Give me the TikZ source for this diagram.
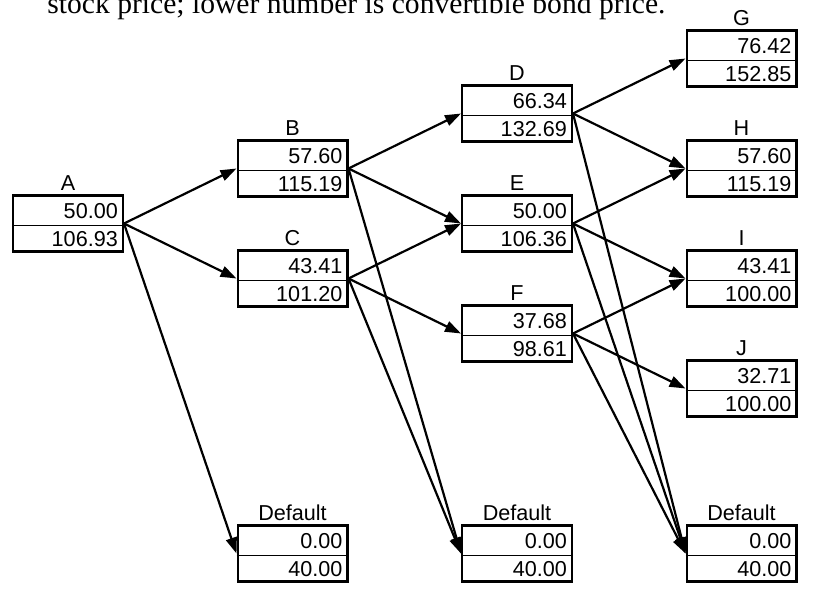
\documentclass[tikz,border=0pt]{standalone}
\usepackage{fontspec}
\setmainfont{Liberation Serif}
\setsansfont{Liberation Sans}
\usetikzlibrary{arrows.meta,shapes.multipart}
\tikzset{
  cell/.style={draw, line width=1.2pt, rectangle split, rectangle split parts=2,
               rectangle split draw splits=false, text width=49.8pt, align=right,
               inner xsep=2.5pt, inner ysep=2pt, text height=8.8pt, text depth=1.2pt,
               font=\sffamily\fontsize{10.8}{12}\selectfont},
  lbl/.style={font=\sffamily\fontsize{10.8}{12}\selectfont, inner sep=1.5pt},
  divider/.style={line width=0.6pt},
  arrow/.style={-{Triangle[length=8pt,width=5.5pt]}, line width=1.1pt},
  caption/.style={font=\fontsize{14.8}{16}\selectfont, inner sep=0pt},
}

\begin{document}
\begin{tikzpicture}[x=0.5pt, y=-0.5pt]
  \useasboundingbox (0,0) rectangle (813,594);
  \node[caption, anchor=base west] (cap) at (47,13.5) {stock price; lower number is convertible bond price.};
  % nodes of the tree
  \node[cell, label={[lbl]above:A}] (A) at (68,223.5) {50.00\nodepart{two}106.93};
  \node[cell, label={[lbl]above:B}] (B) at (292.5,168.5) {57.60\nodepart{two}115.19};
  \node[cell, label={[lbl]above:C}] (C) at (292.5,278.5) {43.41\nodepart{two}101.20};
  \node[cell, label={[lbl]above:D}] (D) at (517,113.5) {66.34\nodepart{two}132.69};
  \node[cell, label={[lbl]above:E}] (E) at (517,223.5) {50.00\nodepart{two}106.36};
  \node[cell, label={[lbl]above:F}] (F) at (517,333.5) {37.68\nodepart{two}98.61};
  \node[cell, label={[lbl]above:G}] (G) at (741.5,58.5) {76.42\nodepart{two}152.85};
  \node[cell, label={[lbl]above:H}] (H) at (741.5,168.5) {57.60\nodepart{two}115.19};
  \node[cell, label={[lbl]above:I}] (I) at (741.5,278.5) {43.41\nodepart{two}100.00};
  \node[cell, label={[lbl]above:J}] (J) at (741.5,388.5) {32.71\nodepart{two}100.00};
  \node[cell, label={[lbl]above:Default}] (dft1) at (292.5,553.5) {0.00\nodepart{two}40.00};
  \node[cell, label={[lbl]above:Default}] (dft2) at (517,553.5) {0.00\nodepart{two}40.00};
  \node[cell, label={[lbl]above:Default}] (dft3) at (741.5,553.5) {0.00\nodepart{two}40.00};
  \foreach \n in {A,B,C,D,E,F,G,H,I,J,dft1,dft2,dft3}
    \draw[divider] (\n.text split west) -- (\n.text split east);
  % branches
  \foreach \s/\t in {A/B, A/C, A/dft1, B/D, B/E, B/dft2, C/E, C/F, C/dft2,
                     D/G, D/H, D/dft3, E/H, E/I, E/dft3, F/I, F/J, F/dft3}
    \draw[arrow] (\s.east) -- (\t.west);
\end{tikzpicture}
\end{document}
